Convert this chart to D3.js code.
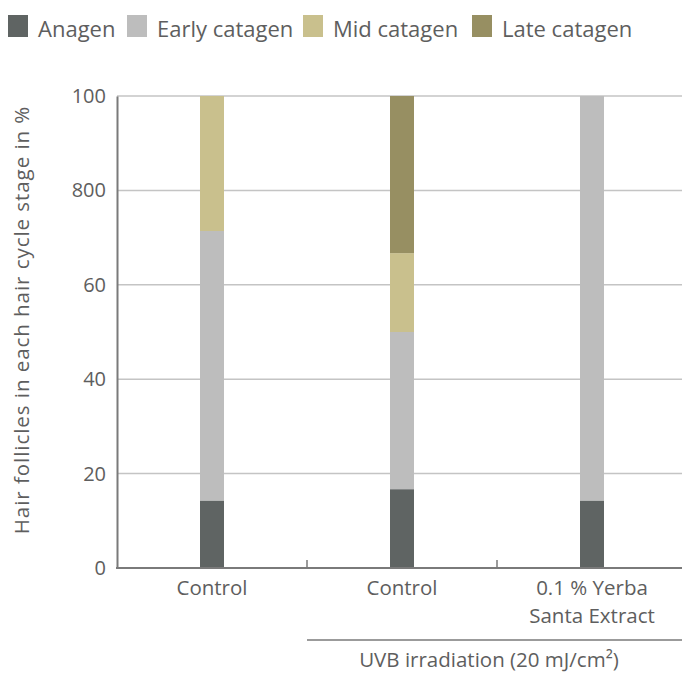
<!DOCTYPE html>
<html>
<head>
<meta charset="utf-8">
<script src="https://cdn.jsdelivr.net/npm/d3@7"></script>
<style>
  body { margin: 0; background: #fff; }
  text { font-family: "Open Sans", "Noto Sans", sans-serif; fill: #5e5e5e; }
</style>
</head>
<body>
<div id="chart"></div>
<script>
// data
var groups = ["Control", "Control", "0.1 % Yerba\nSanta Extract"];
var stages = ["Anagen", "Early catagen", "Mid catagen", "Late catagen"];
var anagen = [14.3, 16.7, 14.3];
var earlyCatagen = [57.1, 33.3, 85.7];
var midCatagen = [28.6, 16.7, 0];
var lateCatagen = [0, 33.3, 0];
var yTicks = [0, 20, 40, 60, 80, 100];
var yTickLabels = ["0", "20", "40", "60", "800", "100"];   // "800" as printed in the original
var yTitle = "Hair follicles in each hair cycle stage in %";
var uvbLabel = "UVB irradiation (20 mJ/cm²)";

var colors = ["#5f6463", "#bdbdbd", "#c9c08d", "#978f62"];

var W = 682, H = 676;
var margin = {left: 117, top: 96, right: -5, bottom: 108};

var svg = d3.select("#chart").append("svg")
    .attr("width", W)
    .attr("height", H);

var table = groups.map(function(g, i) {
  return {idx: i, name: g, "Anagen": anagen[i], "Early catagen": earlyCatagen[i],
          "Mid catagen": midCatagen[i], "Late catagen": lateCatagen[i]};
});
var series = d3.stack().keys(stages)(table);

var x = d3.scaleBand()
    .domain(d3.range(groups.length))
    .range([margin.left, W - margin.right]);

var y = d3.scaleLinear()
    .domain([0, 100])
    .range([H - margin.bottom, margin.top]);

var barW = 24;

// gridlines
svg.append("g")
  .selectAll("line")
  .data(yTicks.slice(1))
  .join("line")
    .attr("x1", margin.left)
    .attr("x2", W)
    .attr("y1", d => y(d))
    .attr("y2", d => y(d))
    .attr("stroke", "#c4c4c4")
    .attr("stroke-width", 1.5);

// bars
svg.append("g")
  .selectAll("g")
  .data(series)
  .join("g")
    .attr("fill", (d, i) => colors[i])
  .selectAll("rect")
  .data(d => d)
  .join("rect")
    .attr("x", d => x(d.data.idx) + x.bandwidth() / 2 - barW / 2)
    .attr("width", barW)
    .attr("y", d => y(d[1]))
    .attr("height", d => y(d[0]) - y(d[1]));

// y axis
var yAxis = svg.append("g")
    .attr("transform", "translate(" + margin.left + ",0)")
    .call(d3.axisLeft(y).tickValues(yTicks).tickSize(0).tickPadding(11)
      .tickFormat((d, i) => yTickLabels[i]));
yAxis.select(".domain").attr("stroke", "#7a7a7a").attr("stroke-width", 2);
yAxis.selectAll("text").style("font-size", "20px").attr("fill", "#5e5e5e");

// x axis
var x0 = y(0);
svg.append("line")
    .attr("x1", margin.left - 1).attr("x2", W)
    .attr("y1", x0).attr("y2", x0)
    .attr("stroke", "#7a7a7a").attr("stroke-width", 2);

svg.append("g")
  .selectAll("line")
  .data(d3.range(1, groups.length))
  .join("line")
    .attr("x1", d => x(d))
    .attr("x2", d => x(d))
    .attr("y1", x0)
    .attr("y2", x0 - 8)
    .attr("stroke", "#7a7a7a")
    .attr("stroke-width", 1.5);

svg.append("g")
  .selectAll("text")
  .data(groups)
  .join("text")
    .attr("text-anchor", "middle")
    .style("font-size", "20.5px")
    .attr("transform", (d, i) => "translate(" + (x(i) + x.bandwidth() / 2) + "," + (x0 + 27) + ")")
    .each(function(d) {
      var t = d3.select(this);
      d.split("\n").forEach(function(line, k) {
        t.append("tspan").attr("x", 0).attr("dy", k ? 28 : 0).text(line);
      });
    });

// UVB bracket line
svg.append("line")
    .attr("x1", x(1)).attr("x2", W)
    .attr("y1", 640).attr("y2", 640)
    .attr("stroke", "#7a7a7a").attr("stroke-width", 1.5);

svg.append("text")
    .attr("x", 489)
    .attr("y", 667)
    .attr("text-anchor", "middle")
    .style("font-size", "20.5px")
    .text(uvbLabel);

// y title
svg.append("text")
    .attr("transform", "translate(29," + 320 + ") rotate(-90)")
    .attr("text-anchor", "middle")
    .style("font-size", "20.5px")
    .style("letter-spacing", "0.95px")
    .text(yTitle);

// legend
var legendX = [8, 127, 303, 472];
var legend = svg.append("g")
  .selectAll("g")
  .data(stages)
  .join("g")
    .attr("transform", (d, i) => "translate(" + legendX[i] + ",15)");
legend.append("rect")
    .attr("width", 20).attr("height", 22)
    .attr("fill", (d, i) => colors[i]);
legend.append("text")
    .attr("x", 30).attr("y", 22)
    .style("font-size", "22px")
    .text(d => d);
</script>
</body>
</html>
